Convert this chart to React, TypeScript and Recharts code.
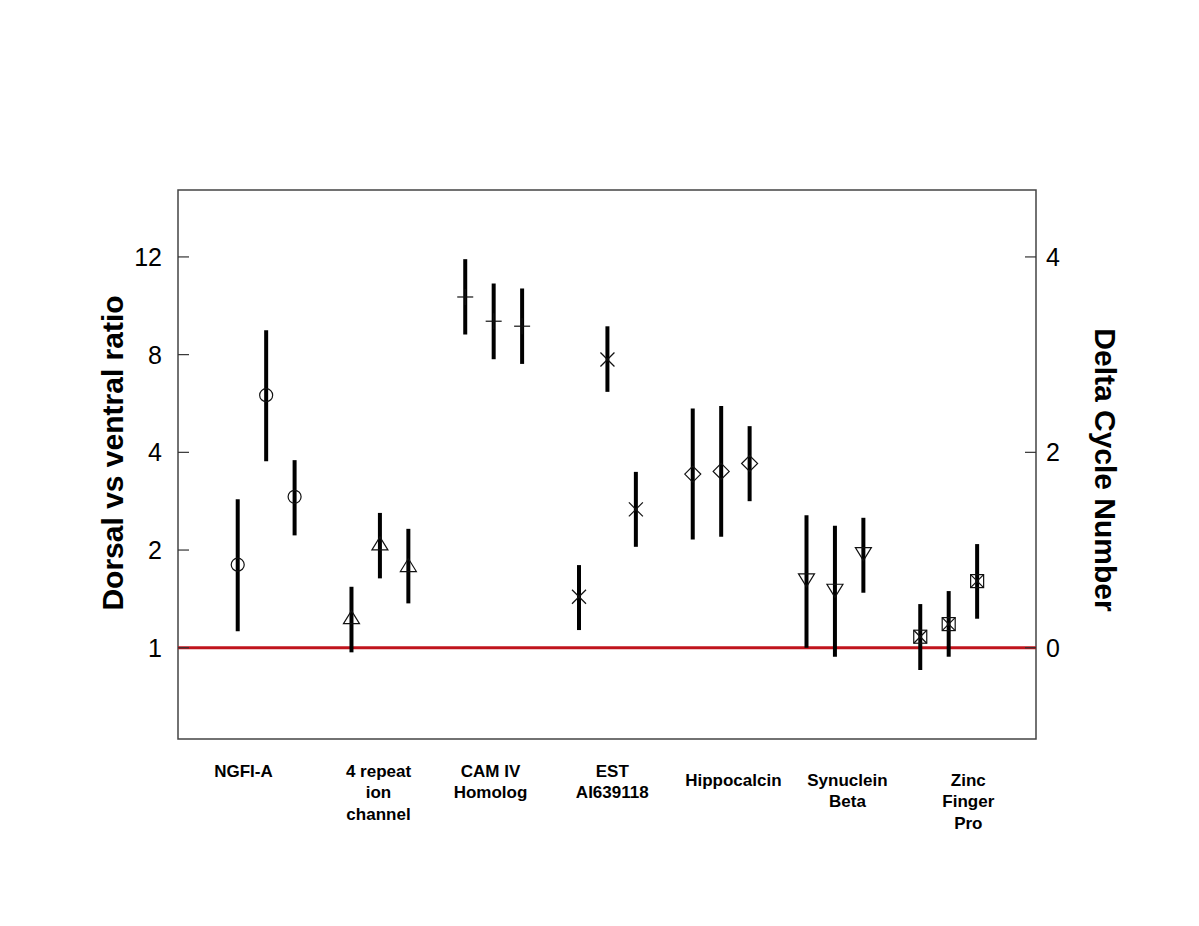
import React from "react";
import {
  ScatterChart,
  Scatter,
  XAxis,
  YAxis,
  ErrorBar,
  ReferenceLine,
  ReferenceArea,
} from "recharts";

// genes along the x axis, one label line per entry
const categories: string[][] = [
  ["NGFI-A"],
  ["4 repeat", "ion", "channel"],
  ["CAM IV", "Homolog"],
  ["EST", "AI639118"],
  ["Hippocalcin"],
  ["Synuclein", "Beta"],
  ["Zinc", "Finger", "Pro"],
];
const labelX = [1.2, 5.95, 9.89, 14.17, 18.43, 22.44, 26.69];
const labelDrop = [0, 0, 0, 0, 9, 9, 9];

// x position of each replicate
const xPos = [
  [1, 2, 3],
  [5, 6, 7],
  [9, 10, 11],
  [13, 14, 15],
  [17, 18, 19],
  [21, 22, 23],
  [25, 26, 27],
];

// log2 ratio (delta cycle number) with error bar ends
const mid = [
  [0.85, 2.585, 1.545],
  [0.293, 1.048, 0.826],
  [3.59, 3.342, 3.291],
  [0.522, 2.95, 1.416],
  [1.777, 1.805, 1.886],
  [0.71, 0.604, 0.979],
  [0.113, 0.242, 0.682],
];
const lower = [
  [0.17, 1.91, 1.15],
  [-0.047, 0.71, 0.454],
  [3.206, 2.953, 2.905],
  [0.181, 2.619, 1.033],
  [1.109, 1.136, 1.5],
  [0.0, -0.092, 0.563],
  [-0.228, -0.092, 0.297],
];
const upper = [
  [1.52, 3.25, 1.92],
  [0.624, 1.38, 1.217],
  [3.977, 3.728, 3.677],
  [0.846, 3.29, 1.8],
  [2.449, 2.473, 2.268],
  [1.357, 1.248, 1.33],
  [0.447, 0.58, 1.061],
];

const markers = ["circle", "triangle", "plus", "cross", "diamond", "triangleDown", "squareX"];

const leftTicks = [0, 1, 2, 3, 4];
const leftLabels = ["1", "2", "4", "8", "12"];
const rightTicks = [0, 2, 4];

const X_DOMAIN: [number, number] = [-1.1, 29.07];
const Y_DOMAIN: [number, number] = [-0.934, 4.685];

const PLOT_LEFT = 178;
const PLOT_RIGHT = 1036;
const PLOT_BOTTOM = 739;
const FONT = "'Liberation Sans', Arial, Helvetica, sans-serif";

const rows = mid.map((g, gi) =>
  g.map((v, i) => ({
    x: xPos[gi][i],
    y: v,
    err: [v - lower[gi][i], upper[gi][i] - v],
  }))
);

function Marker({ cx, cy, kind }: { cx: number; cy: number; kind: string }) {
  const s = { stroke: "#111", strokeWidth: 1.2, fill: "none" };
  if (kind === "circle") return <circle cx={cx} cy={cy} r={6.5} {...s} />;
  if (kind === "triangle")
    return <polygon points={`${cx - 8},${cy + 4.5} ${cx + 8},${cy + 4.5} ${cx},${cy - 8.5}`} {...s} />;
  if (kind === "triangleDown")
    return <polygon points={`${cx - 8},${cy - 4.5} ${cx + 8},${cy - 4.5} ${cx},${cy + 8.5}`} {...s} />;
  if (kind === "plus")
    return (
      <g {...s}>
        <line x1={cx - 8} y1={cy} x2={cx + 8} y2={cy} />
        <line x1={cx} y1={cy - 8} x2={cx} y2={cy + 8} />
      </g>
    );
  if (kind === "cross")
    return (
      <g {...s}>
        <line x1={cx - 7} y1={cy - 7} x2={cx + 7} y2={cy + 7} />
        <line x1={cx - 7} y1={cy + 7} x2={cx + 7} y2={cy - 7} />
      </g>
    );
  if (kind === "diamond")
    return <polygon points={`${cx - 8},${cy} ${cx},${cy - 8} ${cx + 8},${cy} ${cx},${cy + 8}`} {...s} />;
  // square with an x inside
  return (
    <g {...s}>
      <rect x={cx - 6.5} y={cy - 6.5} width={13} height={13} />
      <line x1={cx - 6.5} y1={cy - 6.5} x2={cx + 6.5} y2={cy + 6.5} />
      <line x1={cx - 6.5} y1={cy + 6.5} x2={cx + 6.5} y2={cy - 6.5} />
    </g>
  );
}

function LeftTick(props: any) {
  const { y, index } = props;
  return (
    <g>
      <line x1={PLOT_LEFT} y1={y} x2={PLOT_LEFT + 11} y2={y} stroke="#333" strokeWidth={1.2} />
      <text x={PLOT_LEFT - 16} y={y} textAnchor="end" dominantBaseline="central" fontSize={25} fill="#000" fontFamily={FONT}>
        {leftLabels[index]}
      </text>
    </g>
  );
}

function RightTick(props: any) {
  const { y, payload } = props;
  return (
    <g>
      <line x1={PLOT_RIGHT - 11} y1={y} x2={PLOT_RIGHT} y2={y} stroke="#333" strokeWidth={1.2} />
      <text x={PLOT_RIGHT + 10} y={y} textAnchor="start" dominantBaseline="central" fontSize={25} fill="#000" fontFamily={FONT}>
        {payload.value}
      </text>
    </g>
  );
}

function GeneTick(props: any) {
  const { x, index } = props;
  const lines = categories[index] || [];
  const top = PLOT_BOTTOM + 32 + labelDrop[index];
  return (
    <g>
      {lines.map((t, i) => (
        <text
          key={i}
          x={x}
          y={top + i * 21.7}
          textAnchor="middle"
          dominantBaseline="central"
          fontSize={17}
          fontWeight="bold"
          fill="#000"
          fontFamily={FONT}
        >
          {t}
        </text>
      ))}
    </g>
  );
}

export default function App() {
  return (
    <div style={{ position: "absolute", left: 0, top: 0, width: 1199, height: 926, background: "#fff" }}>
      <ScatterChart width={1199} height={926} margin={{ top: 190, right: 103, bottom: 87, left: 118 }}>
        <XAxis
          type="number"
          dataKey="x"
          domain={X_DOMAIN}
          allowDataOverflow
          ticks={labelX}
          interval={0}
          axisLine={false}
          tickLine={false}
          height={100}
          tick={<GeneTick />}
        />
        <YAxis
          yAxisId="left"
          type="number"
          dataKey="y"
          domain={Y_DOMAIN}
          allowDataOverflow
          ticks={leftTicks}
          interval={0}
          axisLine={false}
          tickLine={false}
          width={60}
          tick={<LeftTick />}
        />
        <YAxis
          yAxisId="right"
          orientation="right"
          type="number"
          domain={Y_DOMAIN}
          allowDataOverflow
          ticks={rightTicks}
          interval={0}
          axisLine={false}
          tickLine={false}
          width={60}
          tick={<RightTick />}
        />
        <ReferenceArea
          yAxisId="left"
          x1={X_DOMAIN[0]}
          x2={X_DOMAIN[1]}
          y1={Y_DOMAIN[0]}
          y2={Y_DOMAIN[1]}
          fill="none"
          stroke="#444"
          strokeWidth={1.5}
          ifOverflow="extendDomain"
        />
        <ReferenceLine yAxisId="left" y={0} stroke="#c0141c" strokeWidth={3} />
        {rows.map((data, gi) => (
          <Scatter
            key={gi}
            yAxisId="left"
            data={data}
            isAnimationActive={false}
            shape={(p: any) => <Marker cx={p.cx} cy={p.cy} kind={markers[gi]} />}
          >
            <ErrorBar dataKey="err" direction="y" width={0} strokeWidth={4} stroke="#000" />
          </Scatter>
        ))}
      </ScatterChart>
      <div
        style={{
          position: "absolute",
          left: 113,
          top: 453,
          transform: "translate(-50%, -50%) rotate(-90deg)",
          whiteSpace: "nowrap",
          fontFamily: FONT,
          fontWeight: "bold",
          fontSize: 30,
          color: "#000",
        }}
      >
        Dorsal vs ventral ratio
      </div>
      <div
        style={{
          position: "absolute",
          left: 1105,
          top: 470,
          transform: "translate(-50%, -50%) rotate(90deg)",
          whiteSpace: "nowrap",
          fontFamily: FONT,
          fontWeight: "bold",
          fontSize: 30,
          color: "#000",
        }}
      >
        Delta Cycle Number
      </div>
    </div>
  );
}
